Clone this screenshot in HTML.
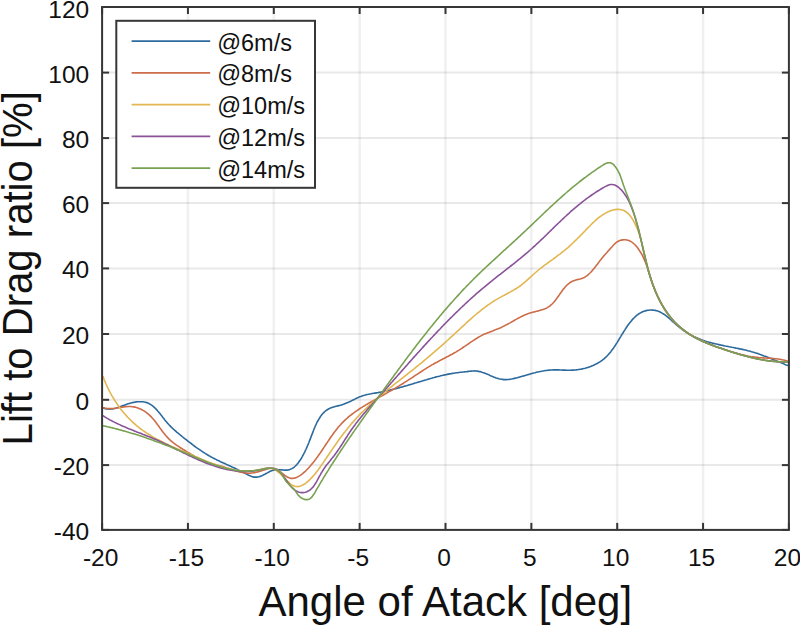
<!DOCTYPE html>
<html><head><meta charset="utf-8"><style>
html,body{margin:0;padding:0;background:#fff;width:800px;height:625px;overflow:hidden}
svg{position:absolute;left:0;top:0;font-family:"Liberation Sans", sans-serif}
</style></head><body>
<svg width="800" height="625" viewBox="0 0 800 625">
<line x1="187.95" y1="7.0" x2="187.95" y2="529.9" stroke="#000" stroke-opacity="0.06" stroke-width="2.6"/>
<line x1="273.80" y1="7.0" x2="273.80" y2="529.9" stroke="#000" stroke-opacity="0.06" stroke-width="2.6"/>
<line x1="359.65" y1="7.0" x2="359.65" y2="529.9" stroke="#000" stroke-opacity="0.06" stroke-width="2.6"/>
<line x1="445.50" y1="7.0" x2="445.50" y2="529.9" stroke="#000" stroke-opacity="0.06" stroke-width="2.6"/>
<line x1="531.35" y1="7.0" x2="531.35" y2="529.9" stroke="#000" stroke-opacity="0.06" stroke-width="2.6"/>
<line x1="617.20" y1="7.0" x2="617.20" y2="529.9" stroke="#000" stroke-opacity="0.06" stroke-width="2.6"/>
<line x1="703.05" y1="7.0" x2="703.05" y2="529.9" stroke="#000" stroke-opacity="0.06" stroke-width="2.6"/>
<line x1="102.1" y1="465.10" x2="788.9" y2="465.10" stroke="#000" stroke-opacity="0.085" stroke-width="2"/>
<line x1="102.1" y1="399.80" x2="788.9" y2="399.80" stroke="#000" stroke-opacity="0.085" stroke-width="2"/>
<line x1="102.1" y1="334.00" x2="788.9" y2="334.00" stroke="#000" stroke-opacity="0.085" stroke-width="2"/>
<line x1="102.1" y1="268.40" x2="788.9" y2="268.40" stroke="#000" stroke-opacity="0.085" stroke-width="2"/>
<line x1="102.1" y1="203.10" x2="788.9" y2="203.10" stroke="#000" stroke-opacity="0.085" stroke-width="2"/>
<line x1="102.1" y1="138.10" x2="788.9" y2="138.10" stroke="#000" stroke-opacity="0.085" stroke-width="2"/>
<line x1="102.1" y1="72.60" x2="788.9" y2="72.60" stroke="#000" stroke-opacity="0.085" stroke-width="2"/>
<path d="M102.4 407.9L103.9 408.3L105.3 408.7L106.8 408.9L108.1 409.0L109.5 409.1L110.8 409.0L112.1 408.9L113.3 408.7L114.6 408.5L115.8 408.2L117.0 407.8L118.2 407.4L119.4 407.0L120.6 406.6L121.8 406.1L123.0 405.6L124.3 405.2L125.5 404.7L126.8 404.2L128.0 403.8L129.4 403.4L130.7 403.0L132.0 402.7L133.4 402.4L134.8 402.2L136.1 401.9L137.5 401.8L138.9 401.7L140.2 401.7L141.6 401.7L142.9 401.8L144.2 402.0L145.4 402.3L146.7 402.6L147.9 403.1L149.0 403.6L150.1 404.2L151.2 404.9L152.2 405.6L153.2 406.4L154.2 407.3L155.2 408.2L156.1 409.1L157.0 410.1L157.9 411.2L158.8 412.2L159.7 413.3L160.6 414.4L161.4 415.5L162.3 416.6L163.1 417.7L164.0 418.8L164.8 419.9L165.7 421.0L166.6 422.0L167.4 423.0L168.3 424.0L169.2 425.0L170.1 425.9L171.0 426.9L172.0 427.8L172.9 428.7L173.8 429.5L174.8 430.4L175.7 431.2L176.7 432.1L177.7 432.9L178.7 433.7L179.7 434.5L180.7 435.3L181.7 436.2L182.7 437.0L183.7 437.8L184.7 438.6L185.8 439.4L186.8 440.2L187.9 441.1L188.9 441.9L190.0 442.7L191.1 443.5L192.2 444.3L193.2 445.2L194.3 446.0L195.4 446.8L196.5 447.6L197.6 448.4L198.8 449.1L199.9 449.9L201.0 450.7L202.1 451.4L203.2 452.2L204.4 452.9L205.5 453.6L206.7 454.3L207.8 455.0L208.9 455.7L210.1 456.3L211.2 457.0L212.4 457.6L213.6 458.2L214.7 458.8L215.9 459.4L217.0 460.0L218.2 460.6L219.4 461.1L220.5 461.7L221.7 462.2L222.9 462.8L224.1 463.3L225.3 463.8L226.5 464.4L227.7 464.9L228.9 465.5L230.1 466.0L231.3 466.6L232.5 467.2L233.7 467.7L235.0 468.3L236.2 468.9L237.4 469.5L238.6 470.1L239.8 470.7L241.1 471.3L242.3 471.9L243.5 472.5L244.7 473.1L245.9 473.7L247.1 474.4L248.2 475.0L249.4 475.6L250.6 476.1L251.8 476.5L253.0 476.9L254.2 477.1L255.4 477.1L256.6 477.1L257.8 477.0L258.9 476.7L260.1 476.4L261.3 475.9L262.5 475.4L263.7 474.8L264.9 474.2L266.1 473.5L267.3 472.9L268.5 472.2L269.7 471.6L270.9 471.1L272.2 470.6L273.5 470.2L274.8 469.9L276.1 469.7L277.5 469.6L278.9 469.7L280.3 469.8L281.6 469.9L283.0 470.0L284.4 470.1L285.7 470.1L287.0 470.1L288.3 469.9L289.5 469.6L290.6 469.2L291.8 468.6L292.9 468.0L293.9 467.3L294.9 466.5L295.9 465.5L296.8 464.6L297.7 463.5L298.5 462.5L299.3 461.3L300.1 460.2L300.9 459.0L301.6 457.8L302.3 456.6L302.9 455.4L303.6 454.2L304.2 453.0L304.8 451.8L305.3 450.7L305.9 449.5L306.4 448.4L306.9 447.2L307.4 446.0L307.9 444.9L308.4 443.7L308.9 442.5L309.3 441.3L309.8 440.1L310.3 438.9L310.7 437.7L311.2 436.4L311.7 435.1L312.2 433.9L312.7 432.6L313.2 431.3L313.7 430.0L314.2 428.6L314.8 427.3L315.3 426.0L315.9 424.8L316.5 423.5L317.1 422.2L317.8 421.0L318.5 419.8L319.2 418.6L319.9 417.5L320.6 416.4L321.4 415.3L322.2 414.3L323.1 413.3L324.0 412.4L324.9 411.5L325.9 410.7L326.9 410.0L327.9 409.3L329.0 408.7L330.2 408.1L331.4 407.7L332.6 407.3L333.8 406.9L335.1 406.5L336.4 406.2L337.7 405.9L339.0 405.6L340.3 405.3L341.5 404.9L342.8 404.5L344.1 404.1L345.3 403.6L346.5 403.1L347.8 402.6L349.0 402.0L350.1 401.4L351.3 400.9L352.5 400.3L353.7 399.7L354.9 399.1L356.0 398.5L357.2 397.9L358.4 397.4L359.6 396.8L360.8 396.4L362.1 395.9L363.3 395.5L364.6 395.2L365.9 394.8L367.2 394.5L368.5 394.3L369.8 394.0L371.1 393.8L372.4 393.5L373.7 393.3L375.0 393.1L376.3 392.9L377.7 392.7L379.0 392.4L380.3 392.2L381.6 391.9L382.9 391.7L384.2 391.4L385.5 391.1L386.8 390.8L388.1 390.6L389.4 390.2L390.7 389.9L392.0 389.6L393.3 389.3L394.6 389.0L395.9 388.6L397.2 388.3L398.5 387.9L399.7 387.6L401.0 387.2L402.3 386.9L403.6 386.5L404.9 386.1L406.1 385.8L407.4 385.4L408.7 385.0L410.0 384.6L411.3 384.3L412.5 383.9L413.8 383.5L415.1 383.1L416.4 382.7L417.6 382.3L418.9 381.9L420.2 381.6L421.5 381.2L422.7 380.8L424.0 380.4L425.3 380.0L426.6 379.7L427.8 379.3L429.1 378.9L430.4 378.5L431.7 378.2L433.0 377.8L434.2 377.5L435.5 377.1L436.8 376.8L438.1 376.5L439.4 376.2L440.7 375.8L442.0 375.5L443.3 375.2L444.6 374.9L445.9 374.7L447.2 374.4L448.5 374.1L449.8 373.9L451.1 373.7L452.4 373.4L453.7 373.2L455.0 373.0L456.4 372.8L457.7 372.7L459.0 372.5L460.3 372.3L461.7 372.2L463.0 372.0L464.3 371.9L465.6 371.7L467.0 371.6L468.3 371.4L469.6 371.3L470.9 371.1L472.3 371.0L473.6 371.0L474.9 370.9L476.2 371.0L477.5 371.1L478.7 371.4L480.0 371.6L481.3 372.0L482.5 372.4L483.8 372.8L485.0 373.3L486.3 373.8L487.5 374.3L488.8 374.8L490.0 375.4L491.2 375.9L492.5 376.4L493.7 376.9L495.0 377.4L496.2 377.9L497.5 378.3L498.7 378.7L500.0 379.0L501.3 379.3L502.5 379.4L503.8 379.6L505.1 379.6L506.4 379.6L507.7 379.5L509.0 379.4L510.3 379.2L511.6 379.0L513.0 378.7L514.3 378.4L515.6 378.1L516.9 377.8L518.2 377.4L519.5 377.1L520.8 376.7L522.2 376.3L523.5 375.9L524.8 375.6L526.1 375.2L527.4 374.8L528.7 374.4L530.0 374.1L531.2 373.7L532.5 373.3L533.8 373.0L535.1 372.7L536.4 372.3L537.7 372.0L539.0 371.7L540.3 371.5L541.6 371.2L542.9 371.0L544.2 370.7L545.5 370.5L546.8 370.4L548.1 370.2L549.4 370.1L550.7 370.0L552.0 370.0L553.3 369.9L554.7 369.9L556.0 369.9L557.3 369.9L558.6 369.9L559.9 370.0L561.3 370.0L562.6 370.1L563.9 370.1L565.3 370.1L566.6 370.2L567.9 370.2L569.3 370.2L570.6 370.2L572.0 370.1L573.3 370.1L574.7 370.0L576.0 369.9L577.3 369.7L578.7 369.5L580.0 369.3L581.4 369.1L582.7 368.8L584.0 368.5L585.3 368.2L586.6 367.8L587.9 367.4L589.2 367.0L590.5 366.6L591.7 366.1L592.9 365.6L594.2 365.0L595.3 364.4L596.5 363.8L597.7 363.2L598.8 362.5L599.9 361.9L601.0 361.1L602.0 360.4L603.0 359.6L604.0 358.8L605.0 357.9L605.9 357.1L606.8 356.2L607.7 355.3L608.6 354.3L609.4 353.4L610.2 352.4L611.0 351.4L611.8 350.3L612.6 349.3L613.4 348.2L614.1 347.1L614.9 346.0L615.6 344.9L616.3 343.8L617.1 342.6L617.8 341.4L618.5 340.3L619.2 339.1L619.9 337.9L620.7 336.6L621.4 335.4L622.1 334.2L622.9 333.0L623.6 331.8L624.4 330.6L625.2 329.4L625.9 328.2L626.7 327.0L627.5 325.8L628.3 324.7L629.2 323.6L630.0 322.5L630.9 321.4L631.7 320.4L632.6 319.4L633.5 318.4L634.5 317.5L635.4 316.6L636.4 315.7L637.4 314.9L638.4 314.2L639.4 313.5L640.5 312.9L641.6 312.3L642.7 311.8L643.9 311.3L645.1 310.9L646.3 310.6L647.6 310.3L648.8 310.2L650.1 310.0L651.4 310.0L652.7 310.1L654.0 310.2L655.2 310.4L656.5 310.7L657.7 311.1L658.9 311.5L660.1 312.0L661.3 312.6L662.4 313.3L663.5 314.0L664.6 314.7L665.7 315.5L666.8 316.4L667.8 317.2L668.9 318.1L669.9 319.0L671.0 319.9L672.0 320.9L673.0 321.8L674.1 322.7L675.1 323.7L676.2 324.6L677.2 325.5L678.3 326.3L679.3 327.2L680.4 328.0L681.5 328.8L682.5 329.6L683.6 330.4L684.7 331.2L685.8 331.9L686.9 332.6L688.1 333.3L689.2 334.0L690.3 334.6L691.5 335.3L692.6 335.9L693.8 336.5L695.0 337.0L696.1 337.6L697.3 338.1L698.5 338.6L699.8 339.1L701.0 339.6L702.2 340.0L703.4 340.5L704.7 340.9L705.9 341.3L707.2 341.7L708.5 342.0L709.7 342.4L711.0 342.7L712.3 343.1L713.6 343.4L714.9 343.7L716.2 344.0L717.5 344.3L718.8 344.6L720.1 344.9L721.4 345.2L722.7 345.4L724.0 345.7L725.3 346.0L726.7 346.2L728.0 346.5L729.3 346.8L730.6 347.0L731.9 347.3L733.3 347.5L734.6 347.8L735.9 348.1L737.2 348.3L738.5 348.6L739.9 348.9L741.2 349.1L742.5 349.4L743.8 349.7L745.1 350.0L746.4 350.3L747.7 350.7L749.0 351.0L750.2 351.3L751.5 351.7L752.8 352.0L754.1 352.4L755.3 352.8L756.6 353.2L757.8 353.6L759.1 354.1L760.3 354.5L761.6 354.9L762.8 355.4L764.0 355.9L765.2 356.3L766.5 356.8L767.7 357.3L768.9 357.8L770.1 358.3L771.4 358.8L772.6 359.3L773.8 359.8L775.0 360.3L776.3 360.8L777.5 361.3L778.7 361.8L780.0 362.3L781.2 362.8L782.4 363.3L783.7 363.8L784.9 364.4L786.2 364.9L787.4 365.3L788.7 365.8" fill="none" stroke="#2c6a9e" stroke-width="1.6" stroke-linejoin="round" stroke-linecap="round"/>
<path d="M102.5 407.5L103.9 407.9L105.3 408.2L106.7 408.4L108.2 408.5L109.6 408.6L111.0 408.6L112.4 408.5L113.9 408.4L115.3 408.2L116.7 408.0L118.1 407.8L119.5 407.6L121.0 407.3L122.4 407.1L123.8 406.9L125.2 406.7L126.6 406.6L128.0 406.5L129.4 406.5L130.8 406.5L132.3 406.7L133.6 406.9L135.0 407.1L136.4 407.5L137.8 407.9L139.1 408.5L140.5 409.0L141.8 409.7L143.1 410.4L144.3 411.1L145.5 411.9L146.7 412.8L147.8 413.7L148.9 414.6L150.0 415.6L151.0 416.6L152.0 417.7L152.9 418.7L153.9 419.8L154.8 420.9L155.7 422.1L156.5 423.2L157.4 424.4L158.3 425.5L159.1 426.7L159.9 427.9L160.8 429.0L161.6 430.2L162.5 431.4L163.3 432.5L164.2 433.6L165.1 434.7L166.0 435.8L167.0 436.9L167.9 437.9L168.9 438.9L169.9 439.9L171.0 440.8L172.0 441.7L173.1 442.6L174.2 443.4L175.4 444.3L176.5 445.1L177.7 445.9L178.9 446.7L180.1 447.5L181.3 448.2L182.5 449.0L183.7 449.8L184.9 450.5L186.2 451.3L187.4 452.1L188.6 452.8L189.9 453.5L191.1 454.3L192.4 455.0L193.7 455.7L194.9 456.4L196.2 457.1L197.5 457.8L198.8 458.4L200.1 459.0L201.4 459.7L202.7 460.2L204.0 460.8L205.3 461.4L206.6 461.9L207.9 462.4L209.2 462.8L210.6 463.3L211.9 463.7L213.2 464.1L214.6 464.4L215.9 464.8L217.3 465.2L218.6 465.5L220.0 465.9L221.4 466.2L222.7 466.6L224.1 467.0L225.5 467.4L226.9 467.9L228.3 468.3L229.7 468.8L231.0 469.3L232.4 469.7L233.8 470.2L235.2 470.6L236.6 471.1L238.0 471.5L239.4 471.9L240.8 472.2L242.2 472.5L243.6 472.8L245.0 473.0L246.4 473.1L247.8 473.2L249.2 473.2L250.6 473.1L252.0 473.0L253.4 472.8L254.7 472.6L256.1 472.3L257.5 471.9L258.8 471.6L260.2 471.2L261.6 470.8L262.9 470.3L264.3 469.9L265.7 469.4L267.0 469.0L268.3 468.7L269.7 468.4L271.0 468.3L272.3 468.2L273.6 468.3L274.9 468.6L276.1 469.1L277.4 469.7L278.6 470.5L279.9 471.4L281.1 472.4L282.3 473.3L283.5 474.3L284.7 475.3L286.0 476.2L287.2 477.0L288.5 477.6L289.8 478.1L291.2 478.4L292.5 478.4L293.9 478.2L295.2 477.9L296.6 477.4L297.8 476.8L299.1 476.1L300.3 475.4L301.4 474.6L302.6 473.7L303.7 472.7L304.7 471.8L305.8 470.8L306.8 469.8L307.8 468.7L308.8 467.7L309.8 466.6L310.7 465.5L311.6 464.4L312.6 463.3L313.5 462.2L314.4 461.1L315.2 459.9L316.1 458.8L317.0 457.6L317.8 456.4L318.6 455.3L319.5 454.1L320.3 452.9L321.1 451.7L321.9 450.5L322.7 449.3L323.5 448.1L324.3 446.9L325.1 445.7L325.9 444.5L326.7 443.3L327.5 442.1L328.3 440.9L329.1 439.7L329.9 438.5L330.7 437.3L331.5 436.2L332.4 435.0L333.2 433.8L334.0 432.7L334.9 431.6L335.8 430.4L336.6 429.3L337.5 428.2L338.4 427.1L339.3 426.0L340.3 425.0L341.2 423.9L342.2 422.9L343.2 421.9L344.2 420.9L345.2 419.9L346.2 419.0L347.3 418.1L348.3 417.1L349.4 416.2L350.5 415.3L351.6 414.5L352.8 413.6L353.9 412.8L355.1 411.9L356.2 411.1L357.4 410.3L358.6 409.5L359.8 408.7L361.0 407.9L362.2 407.2L363.4 406.4L364.6 405.7L365.9 404.9L367.1 404.2L368.4 403.4L369.6 402.7L370.9 402.0L372.1 401.3L373.4 400.6L374.6 399.9L375.9 399.2L377.1 398.5L378.4 397.8L379.6 397.1L380.9 396.4L382.1 395.7L383.4 395.0L384.6 394.3L385.9 393.6L387.1 392.8L388.3 392.1L389.6 391.4L390.8 390.7L392.0 390.0L393.3 389.3L394.5 388.6L395.7 387.9L396.9 387.1L398.1 386.4L399.4 385.7L400.6 384.9L401.8 384.2L403.0 383.5L404.2 382.7L405.4 381.9L406.6 381.2L407.8 380.4L409.0 379.6L410.2 378.8L411.4 378.1L412.6 377.3L413.8 376.5L415.0 375.7L416.2 374.9L417.4 374.1L418.6 373.3L419.8 372.5L421.0 371.8L422.2 371.0L423.4 370.2L424.6 369.4L425.8 368.7L427.0 367.9L428.2 367.1L429.5 366.4L430.7 365.7L431.9 364.9L433.2 364.2L434.4 363.5L435.7 362.8L436.9 362.2L438.2 361.5L439.4 360.8L440.7 360.1L442.0 359.5L443.2 358.8L444.5 358.2L445.8 357.5L447.0 356.8L448.3 356.2L449.6 355.5L450.8 354.8L452.1 354.2L453.3 353.5L454.5 352.8L455.8 352.1L457.0 351.3L458.2 350.6L459.4 349.9L460.6 349.1L461.8 348.3L463.0 347.5L464.2 346.7L465.4 345.9L466.5 345.1L467.7 344.3L468.9 343.5L470.0 342.7L471.2 341.9L472.4 341.1L473.6 340.3L474.8 339.5L476.0 338.8L477.2 338.0L478.4 337.3L479.6 336.6L480.9 335.9L482.1 335.3L483.4 334.6L484.7 334.0L486.0 333.5L487.3 332.9L488.7 332.4L490.0 331.9L491.3 331.4L492.7 330.9L494.0 330.3L495.4 329.8L496.7 329.3L498.0 328.8L499.4 328.2L500.7 327.7L502.0 327.1L503.3 326.4L504.5 325.8L505.8 325.1L507.1 324.5L508.3 323.8L509.6 323.1L510.8 322.4L512.0 321.7L513.3 321.0L514.5 320.3L515.7 319.6L517.0 318.9L518.2 318.2L519.5 317.6L520.7 316.9L522.0 316.3L523.3 315.7L524.6 315.1L525.9 314.6L527.2 314.0L528.5 313.6L529.9 313.1L531.2 312.7L532.6 312.3L534.0 311.9L535.4 311.6L536.8 311.2L538.2 310.9L539.6 310.5L540.9 310.1L542.3 309.7L543.6 309.3L544.9 308.8L546.2 308.2L547.4 307.6L548.5 306.9L549.7 306.1L550.7 305.2L551.8 304.3L552.8 303.3L553.7 302.3L554.7 301.2L555.6 300.0L556.5 298.8L557.3 297.6L558.2 296.4L559.1 295.2L559.9 293.9L560.8 292.7L561.7 291.5L562.5 290.3L563.4 289.1L564.4 288.0L565.3 286.9L566.3 285.8L567.3 284.8L568.4 283.9L569.5 283.0L570.6 282.2L571.9 281.5L573.1 280.9L574.5 280.4L575.9 280.0L577.3 279.6L578.8 279.3L580.2 279.0L581.6 278.6L583.0 278.0L584.3 277.4L585.5 276.7L586.7 275.9L587.9 275.0L588.9 274.0L590.0 273.0L591.0 272.0L592.0 270.9L592.9 269.8L593.8 268.7L594.8 267.6L595.6 266.5L596.5 265.3L597.4 264.2L598.2 263.0L599.1 261.9L599.9 260.8L600.8 259.7L601.7 258.5L602.5 257.5L603.4 256.4L604.4 255.3L605.3 254.3L606.2 253.2L607.2 252.2L608.1 251.1L609.1 250.0L610.1 248.9L611.1 247.8L612.1 246.7L613.1 245.5L614.1 244.5L615.2 243.4L616.3 242.5L617.5 241.7L618.7 241.0L620.0 240.5L621.3 240.1L622.7 239.9L624.0 239.8L625.4 239.8L626.7 240.0L628.1 240.3L629.4 240.8L630.6 241.4L631.9 242.1L633.0 243.0L634.1 244.0L635.2 245.0L636.2 246.1L637.2 247.3L638.1 248.5L638.9 249.7L639.7 251.0L640.5 252.2L641.3 253.5L642.0 254.7L642.6 256.0L643.3 257.3L643.9 258.6L644.4 259.9L645.0 261.2L645.5 262.5L646.0 263.8L646.5 265.1L647.0 266.5L647.4 267.8L647.9 269.1L648.3 270.5L648.7 271.8L649.2 273.2L649.6 274.5L650.0 275.9L650.5 277.2L650.9 278.6L651.4 280.0L651.8 281.3L652.3 282.7L652.8 284.0L653.3 285.4L653.8 286.7L654.3 288.1L654.8 289.4L655.4 290.8L655.9 292.1L656.5 293.4L657.1 294.8L657.6 296.1L658.2 297.4L658.9 298.7L659.5 300.0L660.1 301.3L660.8 302.6L661.5 303.8L662.1 305.1L662.8 306.3L663.6 307.6L664.3 308.8L665.0 310.0L665.8 311.2L666.6 312.4L667.4 313.5L668.2 314.7L669.1 315.8L669.9 316.9L670.8 318.0L671.7 319.1L672.6 320.2L673.6 321.2L674.5 322.2L675.5 323.2L676.5 324.2L677.5 325.2L678.6 326.1L679.7 327.0L680.7 327.9L681.9 328.8L683.0 329.7L684.1 330.5L685.3 331.4L686.4 332.2L687.6 333.0L688.8 333.7L690.1 334.5L691.3 335.2L692.5 335.9L693.8 336.6L695.1 337.3L696.3 338.0L697.6 338.7L698.9 339.3L700.2 340.0L701.5 340.6L702.9 341.2L704.2 341.8L705.5 342.4L706.9 343.0L708.2 343.5L709.6 344.1L710.9 344.6L712.3 345.1L713.7 345.7L715.0 346.2L716.4 346.7L717.8 347.2L719.1 347.6L720.5 348.1L721.9 348.6L723.2 349.1L724.6 349.5L725.9 350.0L727.3 350.4L728.7 350.8L730.0 351.3L731.3 351.7L732.7 352.1L734.0 352.5L735.3 352.9L736.7 353.3L738.0 353.7L739.3 354.1L740.7 354.4L742.0 354.8L743.4 355.1L744.7 355.4L746.1 355.7L747.4 356.0L748.8 356.3L750.2 356.5L751.6 356.7L753.0 356.9L754.4 357.1L755.8 357.3L757.3 357.4L758.7 357.6L760.2 357.7L761.7 357.8L763.1 357.9L764.6 358.0L766.1 358.0L767.6 358.1L769.0 358.2L770.5 358.3L772.0 358.4L773.5 358.5L774.9 358.7L776.4 358.8L777.8 359.0L779.2 359.2L780.6 359.4L782.0 359.7L783.4 360.0L784.8 360.3L786.1 360.7L787.4 361.1L788.7 361.6" fill="none" stroke="#cd6c48" stroke-width="1.6" stroke-linejoin="round" stroke-linecap="round"/>
<path d="M103.1 376.6L103.6 378.0L104.1 379.5L104.7 380.9L105.3 382.3L105.9 383.7L106.5 385.1L107.2 386.5L107.8 387.9L108.5 389.3L109.2 390.6L109.9 392.0L110.6 393.4L111.4 394.7L112.1 396.1L112.9 397.4L113.7 398.7L114.5 400.0L115.4 401.4L116.2 402.6L117.1 403.9L118.0 405.2L118.9 406.5L119.8 407.7L120.7 409.0L121.7 410.2L122.7 411.4L123.6 412.6L124.6 413.8L125.7 414.9L126.7 416.1L127.7 417.2L128.8 418.3L129.9 419.4L131.0 420.5L132.1 421.6L133.2 422.6L134.3 423.6L135.5 424.7L136.6 425.6L137.8 426.6L139.0 427.6L140.2 428.5L141.4 429.4L142.6 430.3L143.9 431.2L145.1 432.0L146.4 432.9L147.7 433.7L149.0 434.5L150.3 435.3L151.6 436.1L152.9 436.9L154.2 437.6L155.6 438.4L156.9 439.1L158.3 439.8L159.6 440.5L161.0 441.2L162.4 441.9L163.7 442.6L165.1 443.3L166.5 444.0L167.9 444.6L169.3 445.3L170.7 445.9L172.1 446.6L173.6 447.2L175.0 447.8L176.4 448.4L177.8 449.1L179.3 449.7L180.7 450.3L182.1 450.9L183.5 451.5L185.0 452.1L186.4 452.7L187.8 453.3L189.3 453.9L190.7 454.5L192.2 455.1L193.6 455.7L195.0 456.4L196.4 457.0L197.9 457.6L199.3 458.2L200.7 458.8L202.1 459.4L203.6 460.0L205.0 460.6L206.4 461.2L207.8 461.8L209.3 462.4L210.7 463.0L212.1 463.5L213.6 464.1L215.0 464.6L216.4 465.1L217.9 465.6L219.3 466.1L220.8 466.6L222.2 467.1L223.7 467.5L225.1 467.9L226.6 468.3L228.1 468.7L229.6 469.0L231.0 469.3L232.5 469.6L234.0 469.9L235.5 470.2L237.0 470.4L238.6 470.6L240.1 470.7L241.6 470.8L243.2 470.9L244.7 471.0L246.3 471.0L247.9 471.0L249.4 470.9L251.0 470.8L252.6 470.7L254.2 470.5L255.8 470.3L257.4 470.0L259.0 469.7L260.6 469.4L262.1 469.0L263.7 468.7L265.2 468.4L266.6 468.2L268.1 468.1L269.5 468.1L270.8 468.3L272.1 468.6L273.4 469.0L274.6 469.6L275.8 470.3L277.0 471.1L278.2 472.0L279.3 472.9L280.4 474.0L281.6 475.1L282.7 476.3L283.9 477.5L285.0 478.7L286.2 479.9L287.4 481.1L288.6 482.2L289.8 483.3L291.1 484.3L292.3 485.1L293.6 485.8L294.8 486.2L296.1 486.5L297.4 486.6L298.8 486.4L300.1 486.1L301.4 485.7L302.7 485.1L304.0 484.3L305.3 483.5L306.5 482.5L307.8 481.5L309.0 480.4L310.2 479.3L311.3 478.1L312.4 476.9L313.4 475.8L314.5 474.6L315.5 473.3L316.4 472.1L317.4 470.9L318.3 469.7L319.2 468.4L320.1 467.2L320.9 465.9L321.8 464.6L322.7 463.4L323.6 462.1L324.4 460.8L325.3 459.6L326.2 458.3L327.0 457.0L327.9 455.7L328.8 454.5L329.6 453.2L330.5 451.9L331.4 450.7L332.2 449.4L333.1 448.1L334.0 446.8L334.9 445.6L335.8 444.3L336.6 443.0L337.5 441.8L338.4 440.5L339.3 439.3L340.2 438.0L341.2 436.8L342.1 435.6L343.0 434.3L343.9 433.1L344.9 431.9L345.8 430.7L346.8 429.5L347.7 428.3L348.7 427.1L349.7 425.9L350.6 424.7L351.6 423.5L352.6 422.4L353.7 421.2L354.7 420.1L355.7 419.0L356.8 417.8L357.8 416.7L358.9 415.6L359.9 414.5L361.0 413.4L362.1 412.3L363.2 411.3L364.3 410.2L365.4 409.1L366.5 408.1L367.6 407.0L368.7 406.0L369.9 404.9L371.0 403.9L372.1 402.9L373.3 401.9L374.4 400.8L375.6 399.8L376.8 398.8L377.9 397.8L379.1 396.8L380.3 395.8L381.5 394.8L382.6 393.8L383.8 392.9L385.0 391.9L386.2 390.9L387.4 389.9L388.6 389.0L389.8 388.0L391.0 387.0L392.2 386.1L393.4 385.1L394.6 384.1L395.8 383.2L397.1 382.2L398.3 381.3L399.5 380.3L400.7 379.4L401.9 378.4L403.1 377.5L404.3 376.5L405.5 375.6L406.8 374.6L408.0 373.6L409.2 372.7L410.4 371.7L411.6 370.8L412.8 369.8L414.0 368.9L415.2 367.9L416.4 366.9L417.6 366.0L418.8 365.0L420.0 364.0L421.2 363.1L422.4 362.1L423.5 361.1L424.7 360.1L425.9 359.1L427.1 358.2L428.2 357.2L429.4 356.2L430.6 355.2L431.8 354.2L432.9 353.2L434.1 352.2L435.2 351.2L436.4 350.2L437.6 349.2L438.7 348.2L439.9 347.2L441.0 346.2L442.2 345.1L443.3 344.1L444.5 343.1L445.6 342.1L446.7 341.0L447.9 340.0L449.0 339.0L450.2 337.9L451.3 336.9L452.4 335.9L453.6 334.8L454.7 333.8L455.8 332.7L457.0 331.7L458.1 330.6L459.2 329.6L460.4 328.5L461.5 327.4L462.6 326.4L463.8 325.3L464.9 324.3L466.0 323.2L467.2 322.2L468.3 321.2L469.5 320.1L470.6 319.1L471.8 318.1L472.9 317.0L474.1 316.0L475.3 315.0L476.4 314.0L477.6 313.0L478.8 312.1L480.0 311.1L481.2 310.1L482.4 309.2L483.6 308.3L484.8 307.3L486.1 306.4L487.3 305.5L488.6 304.6L489.8 303.8L491.1 302.9L492.4 302.1L493.6 301.2L494.9 300.4L496.3 299.6L497.6 298.9L498.9 298.1L500.2 297.4L501.6 296.6L502.9 295.9L504.3 295.2L505.6 294.5L507.0 293.8L508.3 293.0L509.7 292.3L511.0 291.6L512.3 290.8L513.7 290.1L515.0 289.3L516.3 288.5L517.5 287.7L518.8 286.9L520.0 286.0L521.3 285.1L522.5 284.2L523.6 283.2L524.8 282.2L526.0 281.2L527.1 280.2L528.2 279.2L529.3 278.2L530.5 277.1L531.6 276.1L532.7 275.0L533.9 274.0L535.0 273.0L536.2 272.0L537.3 271.0L538.5 270.0L539.7 269.0L540.9 268.0L542.2 267.1L543.4 266.2L544.6 265.2L545.9 264.3L547.1 263.4L548.4 262.5L549.6 261.6L550.9 260.7L552.1 259.8L553.4 258.9L554.6 258.0L555.9 257.1L557.1 256.1L558.3 255.2L559.6 254.3L560.8 253.4L562.0 252.4L563.2 251.5L564.4 250.5L565.5 249.6L566.7 248.6L567.9 247.6L569.0 246.6L570.1 245.6L571.2 244.6L572.3 243.5L573.4 242.5L574.5 241.4L575.6 240.4L576.7 239.3L577.8 238.2L578.9 237.2L580.0 236.1L581.0 235.0L582.1 233.9L583.2 232.7L584.3 231.6L585.4 230.5L586.4 229.4L587.5 228.2L588.6 227.1L589.8 226.0L590.9 224.8L592.0 223.7L593.1 222.6L594.3 221.5L595.5 220.4L596.6 219.4L597.8 218.4L599.1 217.4L600.3 216.5L601.6 215.6L602.8 214.7L604.2 213.9L605.5 213.1L606.8 212.4L608.2 211.8L609.6 211.2L611.1 210.6L612.5 210.2L614.0 209.8L615.4 209.6L616.9 209.4L618.3 209.4L619.7 209.5L621.1 209.7L622.5 210.0L623.8 210.5L625.0 211.2L626.2 211.9L627.3 212.9L628.4 213.9L629.5 215.0L630.5 216.2L631.4 217.5L632.3 218.9L633.2 220.3L634.0 221.8L634.8 223.3L635.5 224.8L636.2 226.3L636.9 227.8L637.5 229.3L638.0 230.8L638.6 232.3L639.1 233.7L639.5 235.2L640.0 236.6L640.4 238.1L640.9 239.5L641.3 240.9L641.7 242.4L642.0 243.8L642.4 245.3L642.8 246.8L643.2 248.2L643.5 249.7L643.9 251.2L644.2 252.6L644.6 254.1L644.9 255.6L645.3 257.1L645.6 258.6L646.0 260.1L646.3 261.5L646.7 263.0L647.1 264.5L647.4 266.0L647.8 267.5L648.2 269.0L648.6 270.5L649.0 272.0L649.4 273.5L649.8 275.0L650.2 276.4L650.7 277.9L651.1 279.4L651.6 280.9L652.1 282.4L652.6 283.9L653.1 285.3L653.7 286.8L654.2 288.3L654.8 289.7L655.3 291.2L655.9 292.6L656.5 294.0L657.2 295.5L657.8 296.9L658.5 298.3L659.2 299.7L659.9 301.1L660.6 302.4L661.3 303.8L662.1 305.1L662.8 306.5L663.6 307.8L664.4 309.1L665.2 310.4L666.1 311.7L667.0 312.9L667.9 314.1L668.8 315.4L669.7 316.6L670.6 317.7L671.6 318.9L672.6 320.0L673.6 321.1L674.7 322.2L675.7 323.3L676.8 324.4L677.9 325.4L679.1 326.4L680.2 327.4L681.4 328.3L682.6 329.2L683.8 330.2L685.0 331.1L686.3 331.9L687.5 332.8L688.8 333.6L690.1 334.4L691.4 335.2L692.8 336.0L694.1 336.8L695.4 337.5L696.8 338.3L698.2 339.0L699.6 339.7L701.0 340.3L702.4 341.0L703.8 341.7L705.2 342.3L706.7 342.9L708.1 343.6L709.6 344.2L711.0 344.7L712.5 345.3L713.9 345.9L715.4 346.4L716.9 347.0L718.4 347.5L719.8 348.1L721.3 348.6L722.8 349.1L724.3 349.6L725.7 350.1L727.2 350.6L728.7 351.1L730.2 351.5L731.6 352.0L733.1 352.5L734.5 352.9L736.0 353.4L737.5 353.8L738.9 354.2L740.4 354.7L741.8 355.1L743.3 355.5L744.8 355.9L746.2 356.3L747.7 356.6L749.1 357.0L750.6 357.4L752.1 357.7L753.6 358.0L755.0 358.4L756.5 358.7L758.0 359.0L759.5 359.2L760.9 359.5L762.4 359.8L763.9 360.0L765.4 360.3L766.9 360.5L768.5 360.7L770.0 360.9L771.5 361.0L773.0 361.2L774.6 361.3L776.1 361.5L777.7 361.6L779.2 361.7L780.8 361.7L782.4 361.8L784.0 361.8L785.6 361.9L787.2 361.9L788.8 361.9" fill="none" stroke="#e2b650" stroke-width="1.6" stroke-linejoin="round" stroke-linecap="round"/>
<path d="M102.8 415.6L104.1 416.4L105.5 417.3L106.8 418.1L108.2 418.9L109.6 419.7L111.0 420.4L112.4 421.2L113.8 421.9L115.2 422.6L116.6 423.3L118.0 423.9L119.5 424.6L120.9 425.3L122.3 425.9L123.7 426.5L125.2 427.1L126.6 427.8L128.1 428.4L129.5 429.0L131.0 429.5L132.4 430.1L133.9 430.7L135.3 431.3L136.8 431.9L138.2 432.4L139.7 433.0L141.2 433.6L142.6 434.2L144.1 434.7L145.5 435.3L147.0 435.9L148.4 436.5L149.9 437.1L151.4 437.7L152.8 438.3L154.3 438.9L155.7 439.5L157.1 440.1L158.6 440.8L160.0 441.4L161.5 442.1L162.9 442.7L164.3 443.4L165.7 444.1L167.2 444.8L168.6 445.5L170.0 446.2L171.4 446.9L172.9 447.6L174.3 448.3L175.7 449.0L177.1 449.7L178.6 450.4L180.0 451.1L181.4 451.8L182.8 452.5L184.2 453.2L185.7 453.9L187.1 454.6L188.5 455.3L189.9 455.9L191.4 456.6L192.8 457.3L194.2 457.9L195.7 458.6L197.1 459.2L198.5 459.9L200.0 460.5L201.4 461.1L202.9 461.7L204.3 462.3L205.8 462.9L207.2 463.5L208.7 464.0L210.1 464.6L211.6 465.1L213.1 465.6L214.6 466.1L216.0 466.6L217.5 467.0L219.0 467.5L220.5 467.9L222.0 468.3L223.5 468.7L225.0 469.0L226.6 469.4L228.1 469.7L229.6 470.0L231.2 470.2L232.7 470.5L234.3 470.7L235.8 470.9L237.4 471.0L239.0 471.2L240.5 471.3L242.1 471.4L243.7 471.4L245.3 471.4L246.9 471.4L248.5 471.4L250.1 471.3L251.8 471.2L253.4 471.0L255.0 470.8L256.6 470.5L258.2 470.2L259.8 469.9L261.4 469.5L263.0 469.2L264.5 468.8L266.1 468.5L267.6 468.3L269.1 468.2L270.6 468.2L272.0 468.3L273.4 468.6L274.8 469.0L276.1 469.6L277.4 470.2L278.6 471.0L279.7 472.0L280.9 473.0L281.9 474.2L282.9 475.4L283.9 476.7L284.9 478.1L285.8 479.5L286.8 480.9L287.7 482.3L288.7 483.7L289.7 485.0L290.8 486.3L291.8 487.5L293.0 488.7L294.2 489.7L295.5 490.6L296.9 491.3L298.3 491.9L299.7 492.3L301.2 492.6L302.7 492.6L304.1 492.5L305.6 492.2L306.9 491.7L308.2 491.1L309.4 490.3L310.6 489.5L311.6 488.5L312.7 487.4L313.6 486.2L314.5 484.9L315.4 483.5L316.3 482.1L317.1 480.7L317.9 479.2L318.7 477.7L319.5 476.2L320.3 474.8L321.1 473.3L322.0 471.9L322.8 470.5L323.7 469.1L324.6 467.8L325.5 466.5L326.4 465.3L327.4 464.1L328.3 462.9L329.3 461.7L330.3 460.5L331.2 459.3L332.2 458.1L333.1 456.9L334.1 455.7L335.0 454.5L335.9 453.3L336.8 452.0L337.7 450.7L338.6 449.4L339.5 448.1L340.3 446.8L341.2 445.5L342.1 444.2L342.9 442.9L343.8 441.5L344.6 440.2L345.5 438.8L346.3 437.5L347.2 436.2L348.0 434.8L348.9 433.5L349.8 432.1L350.7 430.8L351.6 429.5L352.5 428.2L353.4 426.9L354.3 425.7L355.3 424.4L356.2 423.1L357.2 421.9L358.2 420.6L359.1 419.4L360.1 418.2L361.1 417.0L362.1 415.8L363.1 414.6L364.1 413.4L365.2 412.2L366.2 411.0L367.2 409.8L368.2 408.6L369.3 407.4L370.3 406.3L371.4 405.1L372.4 403.9L373.4 402.8L374.5 401.6L375.5 400.4L376.6 399.3L377.6 398.1L378.7 396.9L379.7 395.8L380.8 394.6L381.8 393.4L382.9 392.2L383.9 391.1L385.0 389.9L386.0 388.7L387.1 387.6L388.1 386.4L389.1 385.2L390.2 384.0L391.2 382.8L392.3 381.7L393.3 380.5L394.3 379.3L395.4 378.1L396.4 377.0L397.5 375.8L398.5 374.6L399.6 373.4L400.6 372.2L401.6 371.1L402.7 369.9L403.7 368.7L404.8 367.5L405.8 366.4L406.9 365.2L407.9 364.0L408.9 362.8L410.0 361.6L411.0 360.5L412.1 359.3L413.1 358.1L414.2 356.9L415.2 355.8L416.3 354.6L417.3 353.4L418.4 352.3L419.5 351.1L420.5 349.9L421.6 348.8L422.6 347.6L423.7 346.4L424.7 345.3L425.8 344.1L426.9 342.9L427.9 341.8L429.0 340.6L430.1 339.5L431.1 338.3L432.2 337.2L433.3 336.0L434.4 334.9L435.4 333.7L436.5 332.6L437.6 331.4L438.7 330.3L439.8 329.2L440.9 328.0L441.9 326.9L443.0 325.8L444.1 324.6L445.2 323.5L446.3 322.4L447.4 321.3L448.5 320.1L449.6 319.0L450.7 317.9L451.9 316.8L453.0 315.7L454.1 314.6L455.2 313.5L456.3 312.4L457.5 311.3L458.6 310.2L459.7 309.1L460.8 308.0L462.0 307.0L463.1 305.9L464.3 304.8L465.4 303.7L466.6 302.7L467.7 301.6L468.9 300.5L470.0 299.5L471.2 298.4L472.4 297.4L473.5 296.3L474.7 295.3L475.9 294.2L477.1 293.2L478.3 292.2L479.5 291.1L480.6 290.1L481.8 289.1L483.0 288.1L484.3 287.1L485.5 286.1L486.7 285.1L487.9 284.1L489.1 283.1L490.3 282.1L491.6 281.1L492.8 280.1L494.0 279.2L495.3 278.2L496.5 277.2L497.7 276.2L499.0 275.2L500.2 274.3L501.4 273.3L502.7 272.3L503.9 271.4L505.2 270.4L506.4 269.4L507.6 268.4L508.9 267.5L510.1 266.5L511.4 265.5L512.6 264.6L513.8 263.6L515.1 262.6L516.3 261.6L517.5 260.6L518.7 259.6L520.0 258.6L521.2 257.6L522.4 256.6L523.6 255.6L524.8 254.6L526.0 253.6L527.2 252.6L528.4 251.6L529.6 250.5L530.7 249.5L531.9 248.5L533.1 247.4L534.2 246.4L535.4 245.3L536.5 244.2L537.7 243.2L538.8 242.1L540.0 241.0L541.1 239.9L542.2 238.9L543.4 237.8L544.5 236.7L545.6 235.6L546.8 234.5L547.9 233.4L549.0 232.3L550.1 231.2L551.2 230.1L552.4 229.0L553.5 227.9L554.6 226.8L555.7 225.7L556.9 224.6L558.0 223.5L559.1 222.5L560.3 221.4L561.4 220.3L562.5 219.2L563.7 218.1L564.8 217.0L566.0 216.0L567.1 214.9L568.3 213.8L569.5 212.8L570.6 211.7L571.8 210.7L573.0 209.7L574.2 208.6L575.4 207.6L576.6 206.6L577.8 205.6L579.0 204.6L580.3 203.6L581.5 202.6L582.7 201.6L584.0 200.7L585.3 199.7L586.5 198.7L587.8 197.8L589.1 196.9L590.4 196.0L591.7 195.0L593.0 194.2L594.3 193.3L595.6 192.4L597.0 191.5L598.3 190.7L599.7 189.8L601.0 189.0L602.4 188.2L603.8 187.4L605.2 186.6L606.6 185.9L608.0 185.3L609.4 184.8L610.8 184.5L612.1 184.5L613.5 184.7L614.8 185.1L616.1 185.7L617.4 186.5L618.6 187.4L619.8 188.5L621.0 189.6L622.0 190.8L623.1 192.1L624.1 193.4L625.0 194.7L625.9 196.0L626.7 197.3L627.5 198.7L628.3 200.1L629.0 201.5L629.7 203.0L630.3 204.4L630.9 205.9L631.5 207.3L632.1 208.8L632.6 210.3L633.2 211.8L633.7 213.3L634.2 214.8L634.7 216.3L635.2 217.8L635.6 219.3L636.1 220.8L636.5 222.4L637.0 223.9L637.4 225.4L637.8 226.9L638.2 228.5L638.6 230.0L639.0 231.5L639.4 233.1L639.8 234.6L640.1 236.2L640.5 237.7L640.9 239.2L641.2 240.8L641.6 242.3L641.9 243.9L642.3 245.4L642.6 247.0L643.0 248.5L643.3 250.0L643.7 251.6L644.0 253.1L644.4 254.7L644.8 256.2L645.1 257.7L645.5 259.3L645.9 260.8L646.2 262.3L646.6 263.9L647.0 265.4L647.4 266.9L647.8 268.4L648.2 270.0L648.6 271.5L649.0 273.0L649.5 274.5L649.9 276.0L650.4 277.5L650.9 279.0L651.4 280.5L651.9 281.9L652.4 283.4L652.9 284.9L653.4 286.4L654.0 287.8L654.6 289.3L655.2 290.7L655.8 292.2L656.4 293.6L657.0 295.0L657.7 296.5L658.4 297.9L659.1 299.3L659.8 300.7L660.5 302.1L661.3 303.4L662.1 304.8L662.9 306.1L663.7 307.5L664.5 308.8L665.4 310.1L666.3 311.4L667.2 312.7L668.1 314.0L669.0 315.2L670.0 316.5L671.0 317.7L672.0 318.9L673.0 320.1L674.0 321.2L675.1 322.4L676.2 323.5L677.3 324.6L678.4 325.7L679.5 326.7L680.7 327.7L681.9 328.7L683.1 329.7L684.3 330.7L685.5 331.6L686.8 332.5L688.1 333.4L689.4 334.3L690.7 335.1L692.1 335.9L693.4 336.7L694.8 337.5L696.2 338.2L697.6 338.9L699.0 339.6L700.5 340.3L701.9 341.0L703.4 341.7L704.8 342.3L706.3 342.9L707.8 343.5L709.3 344.1L710.8 344.7L712.3 345.3L713.8 345.9L715.3 346.4L716.8 346.9L718.3 347.5L719.8 348.0L721.3 348.5L722.8 349.0L724.4 349.5L725.9 350.0L727.4 350.5L728.9 351.0L730.4 351.5L731.9 351.9L733.4 352.4L734.9 352.9L736.4 353.3L737.9 353.8L739.4 354.2L740.9 354.7L742.4 355.1L743.9 355.5L745.3 355.9L746.8 356.3L748.3 356.7L749.8 357.1L751.3 357.5L752.8 357.8L754.3 358.2L755.8 358.5L757.3 358.9L758.8 359.2L760.3 359.5L761.9 359.7L763.4 360.0L764.9 360.3L766.5 360.5L768.0 360.7L769.5 360.9L771.1 361.1L772.7 361.3L774.2 361.4L775.8 361.5L777.4 361.7L779.0 361.7L780.6 361.8L782.2 361.9L783.9 361.9L785.5 361.9L787.1 361.9L788.8 361.8" fill="none" stroke="#8a5299" stroke-width="1.6" stroke-linejoin="round" stroke-linecap="round"/>
<path d="M102.7 425.7L104.3 426.0L106.0 426.4L107.6 426.8L109.2 427.1L110.8 427.5L112.4 427.9L114.0 428.3L115.6 428.7L117.2 429.1L118.8 429.6L120.4 430.0L122.0 430.4L123.6 430.9L125.2 431.3L126.7 431.8L128.3 432.2L129.9 432.7L131.4 433.2L133.0 433.6L134.6 434.1L136.1 434.6L137.7 435.1L139.2 435.6L140.8 436.1L142.3 436.6L143.9 437.1L145.4 437.6L146.9 438.2L148.5 438.7L150.0 439.2L151.5 439.8L153.1 440.3L154.6 440.9L156.1 441.4L157.7 442.0L159.2 442.6L160.7 443.1L162.2 443.7L163.8 444.3L165.3 444.9L166.8 445.5L168.3 446.0L169.9 446.6L171.4 447.2L172.9 447.9L174.4 448.5L176.0 449.1L177.5 449.7L179.0 450.3L180.5 450.9L182.0 451.6L183.6 452.2L185.1 452.8L186.6 453.5L188.1 454.1L189.7 454.8L191.2 455.4L192.7 456.1L194.3 456.7L195.8 457.4L197.3 458.0L198.9 458.7L200.4 459.3L201.9 459.9L203.5 460.6L205.0 461.2L206.6 461.8L208.1 462.4L209.7 463.0L211.2 463.6L212.8 464.2L214.3 464.7L215.9 465.3L217.4 465.8L219.0 466.3L220.6 466.8L222.1 467.2L223.7 467.7L225.3 468.1L226.8 468.5L228.4 468.9L230.0 469.2L231.6 469.5L233.2 469.8L234.8 470.1L236.4 470.3L238.0 470.6L239.6 470.7L241.2 470.9L242.8 471.0L244.4 471.0L246.0 471.1L247.7 471.1L249.3 471.0L250.9 470.9L252.5 470.8L254.2 470.7L255.8 470.4L257.5 470.2L259.1 469.9L260.8 469.6L262.5 469.2L264.1 468.9L265.7 468.6L267.4 468.4L269.0 468.3L270.6 468.2L272.2 468.3L273.7 468.5L275.2 468.9L276.7 469.5L278.1 470.3L279.4 471.3L280.6 472.4L281.6 473.7L282.5 475.1L283.3 476.5L284.1 478.0L284.9 479.5L285.8 480.9L286.8 482.2L287.9 483.3L289.0 484.5L290.2 485.6L291.4 486.7L292.6 487.8L293.8 488.9L294.8 490.2L295.8 491.6L296.7 493.0L297.7 494.4L298.7 495.7L300.0 496.9L301.4 498.0L303.0 498.8L304.6 499.4L306.2 499.6L307.6 499.6L308.9 499.2L310.1 498.6L311.2 497.7L312.2 496.6L313.1 495.3L314.0 494.0L314.9 492.6L315.7 491.1L316.5 489.7L317.4 488.2L318.2 486.8L319.1 485.3L319.9 483.9L320.8 482.4L321.6 481.0L322.5 479.6L323.3 478.2L324.2 476.7L325.1 475.3L325.9 473.9L326.8 472.5L327.7 471.1L328.6 469.7L329.4 468.3L330.3 466.9L331.2 465.5L332.1 464.1L333.0 462.7L333.9 461.3L334.8 460.0L335.7 458.6L336.6 457.2L337.5 455.8L338.4 454.4L339.3 453.1L340.2 451.7L341.1 450.3L342.0 449.0L342.9 447.6L343.8 446.3L344.7 444.9L345.6 443.5L346.6 442.2L347.5 440.8L348.4 439.5L349.3 438.1L350.3 436.8L351.2 435.5L352.1 434.1L353.0 432.8L354.0 431.4L354.9 430.1L355.8 428.8L356.8 427.4L357.7 426.1L358.7 424.7L359.6 423.4L360.5 422.1L361.5 420.8L362.4 419.4L363.4 418.1L364.3 416.8L365.3 415.4L366.2 414.1L367.1 412.8L368.1 411.5L369.0 410.1L370.0 408.8L370.9 407.5L371.9 406.2L372.8 404.8L373.8 403.5L374.8 402.2L375.7 400.9L376.7 399.5L377.6 398.2L378.6 396.9L379.5 395.5L380.5 394.2L381.4 392.9L382.4 391.6L383.4 390.2L384.3 388.9L385.3 387.6L386.2 386.3L387.2 384.9L388.2 383.6L389.1 382.3L390.1 380.9L391.1 379.6L392.0 378.3L393.0 377.0L393.9 375.6L394.9 374.3L395.9 373.0L396.9 371.7L397.8 370.3L398.8 369.0L399.8 367.7L400.7 366.4L401.7 365.1L402.7 363.7L403.7 362.4L404.7 361.1L405.6 359.8L406.6 358.5L407.6 357.1L408.6 355.8L409.6 354.5L410.6 353.2L411.6 351.9L412.5 350.6L413.5 349.3L414.5 348.0L415.5 346.7L416.5 345.3L417.5 344.0L418.5 342.7L419.5 341.4L420.5 340.1L421.6 338.8L422.6 337.5L423.6 336.3L424.6 335.0L425.6 333.7L426.6 332.4L427.7 331.1L428.7 329.8L429.7 328.5L430.7 327.3L431.8 326.0L432.8 324.7L433.8 323.4L434.9 322.2L435.9 320.9L437.0 319.6L438.0 318.4L439.1 317.1L440.1 315.8L441.2 314.6L442.2 313.3L443.3 312.1L444.3 310.8L445.4 309.6L446.5 308.4L447.6 307.1L448.6 305.9L449.7 304.6L450.8 303.4L451.9 302.2L453.0 301.0L454.1 299.7L455.2 298.5L456.3 297.3L457.4 296.1L458.5 294.9L459.6 293.7L460.7 292.5L461.8 291.3L462.9 290.1L464.0 288.9L465.2 287.7L466.3 286.5L467.4 285.4L468.6 284.2L469.7 283.0L470.9 281.9L472.0 280.7L473.2 279.5L474.3 278.4L475.5 277.2L476.6 276.1L477.8 274.9L479.0 273.8L480.2 272.7L481.3 271.5L482.5 270.4L483.7 269.3L484.9 268.2L486.1 267.0L487.3 265.9L488.5 264.8L489.7 263.7L490.9 262.6L492.1 261.5L493.3 260.4L494.5 259.3L495.7 258.2L496.9 257.1L498.1 256.0L499.3 254.9L500.5 253.8L501.7 252.6L502.9 251.5L504.1 250.4L505.4 249.3L506.6 248.2L507.8 247.1L509.0 246.0L510.2 244.9L511.4 243.8L512.6 242.7L513.8 241.6L515.0 240.5L516.2 239.4L517.4 238.3L518.6 237.2L519.8 236.1L521.0 234.9L522.2 233.8L523.4 232.7L524.6 231.6L525.8 230.5L527.0 229.3L528.2 228.2L529.4 227.1L530.6 225.9L531.8 224.8L533.0 223.7L534.1 222.5L535.3 221.4L536.5 220.3L537.7 219.1L538.9 218.0L540.1 216.9L541.3 215.7L542.4 214.6L543.6 213.5L544.8 212.3L546.0 211.2L547.2 210.1L548.4 209.0L549.6 207.8L550.8 206.7L552.0 205.6L553.2 204.5L554.4 203.4L555.6 202.3L556.8 201.2L558.0 200.1L559.2 199.0L560.5 197.9L561.7 196.8L562.9 195.7L564.1 194.6L565.4 193.5L566.6 192.5L567.8 191.4L569.1 190.3L570.3 189.3L571.6 188.2L572.8 187.2L574.1 186.1L575.4 185.1L576.6 184.1L577.9 183.1L579.2 182.0L580.5 181.0L581.8 180.0L583.1 179.0L584.4 178.0L585.7 177.1L587.0 176.1L588.3 175.1L589.7 174.1L591.0 173.2L592.4 172.2L593.7 171.3L595.1 170.3L596.4 169.4L597.8 168.4L599.2 167.5L600.6 166.6L602.0 165.7L603.4 164.8L604.8 164.0L606.2 163.3L607.6 162.9L609.0 162.7L610.3 162.8L611.7 163.3L613.0 164.2L614.3 165.4L615.5 166.9L616.6 168.5L617.6 170.1L618.5 171.8L619.3 173.4L619.9 174.9L620.5 176.5L621.1 178.0L621.6 179.5L622.1 181.0L622.6 182.5L623.1 184.0L623.6 185.5L624.2 187.0L624.7 188.5L625.3 190.0L625.8 191.5L626.4 193.0L627.0 194.5L627.6 196.0L628.2 197.5L628.8 199.1L629.3 200.6L629.9 202.1L630.5 203.6L631.1 205.2L631.7 206.7L632.2 208.2L632.8 209.8L633.3 211.4L633.8 212.9L634.3 214.5L634.8 216.0L635.3 217.6L635.8 219.2L636.2 220.8L636.7 222.4L637.1 223.9L637.5 225.5L638.0 227.1L638.4 228.7L638.8 230.3L639.2 231.9L639.5 233.5L639.9 235.1L640.3 236.8L640.7 238.4L641.1 240.0L641.4 241.6L641.8 243.2L642.1 244.8L642.5 246.4L642.9 248.0L643.2 249.6L643.6 251.3L644.0 252.9L644.3 254.5L644.7 256.1L645.1 257.7L645.5 259.3L645.8 260.9L646.2 262.5L646.6 264.1L647.0 265.7L647.5 267.3L647.9 268.9L648.3 270.4L648.7 272.0L649.2 273.6L649.7 275.2L650.1 276.7L650.6 278.3L651.1 279.8L651.6 281.4L652.2 282.9L652.7 284.5L653.3 286.0L653.9 287.5L654.5 289.1L655.1 290.6L655.7 292.1L656.4 293.6L657.0 295.1L657.7 296.5L658.4 298.0L659.2 299.5L659.9 300.9L660.7 302.4L661.5 303.8L662.3 305.2L663.2 306.6L664.0 308.0L664.9 309.4L665.8 310.7L666.7 312.1L667.7 313.4L668.6 314.7L669.6 316.0L670.6 317.3L671.7 318.5L672.7 319.8L673.8 321.0L674.9 322.2L676.0 323.3L677.2 324.5L678.3 325.6L679.5 326.7L680.7 327.8L682.0 328.8L683.2 329.8L684.5 330.8L685.8 331.8L687.1 332.7L688.5 333.6L689.9 334.5L691.2 335.4L692.7 336.2L694.1 337.0L695.5 337.8L697.0 338.6L698.5 339.3L699.9 340.1L701.4 340.8L702.9 341.5L704.5 342.1L706.0 342.8L707.5 343.4L709.1 344.1L710.6 344.7L712.2 345.3L713.8 345.9L715.4 346.4L716.9 347.0L718.5 347.6L720.1 348.1L721.7 348.6L723.3 349.2L724.8 349.7L726.4 350.2L728.0 350.7L729.6 351.2L731.1 351.7L732.7 352.2L734.3 352.7L735.8 353.2L737.4 353.6L738.9 354.1L740.5 354.6L742.0 355.0L743.6 355.5L745.1 355.9L746.7 356.3L748.2 356.7L749.8 357.1L751.4 357.5L752.9 357.9L754.5 358.2L756.0 358.6L757.6 358.9L759.2 359.2L760.8 359.5L762.4 359.8L764.0 360.1L765.5 360.4L767.2 360.6L768.8 360.8L770.4 361.0L772.0 361.2L773.6 361.4L775.3 361.5L776.9 361.6L778.6 361.7L780.3 361.8L782.0 361.8L783.7 361.9L785.4 361.9L787.1 361.9L788.8 361.8" fill="none" stroke="#78a252" stroke-width="1.6" stroke-linejoin="round" stroke-linecap="round"/>
<line x1="102.10" y1="529.9" x2="102.10" y2="522.9" stroke="#363636" stroke-width="2"/>
<line x1="102.10" y1="7.0" x2="102.10" y2="14.0" stroke="#363636" stroke-width="2"/>
<line x1="187.95" y1="529.9" x2="187.95" y2="522.9" stroke="#363636" stroke-width="2"/>
<line x1="187.95" y1="7.0" x2="187.95" y2="14.0" stroke="#363636" stroke-width="2"/>
<line x1="273.80" y1="529.9" x2="273.80" y2="522.9" stroke="#363636" stroke-width="2"/>
<line x1="273.80" y1="7.0" x2="273.80" y2="14.0" stroke="#363636" stroke-width="2"/>
<line x1="359.65" y1="529.9" x2="359.65" y2="522.9" stroke="#363636" stroke-width="2"/>
<line x1="359.65" y1="7.0" x2="359.65" y2="14.0" stroke="#363636" stroke-width="2"/>
<line x1="445.50" y1="529.9" x2="445.50" y2="522.9" stroke="#363636" stroke-width="2"/>
<line x1="445.50" y1="7.0" x2="445.50" y2="14.0" stroke="#363636" stroke-width="2"/>
<line x1="531.35" y1="529.9" x2="531.35" y2="522.9" stroke="#363636" stroke-width="2"/>
<line x1="531.35" y1="7.0" x2="531.35" y2="14.0" stroke="#363636" stroke-width="2"/>
<line x1="617.20" y1="529.9" x2="617.20" y2="522.9" stroke="#363636" stroke-width="2"/>
<line x1="617.20" y1="7.0" x2="617.20" y2="14.0" stroke="#363636" stroke-width="2"/>
<line x1="703.05" y1="529.9" x2="703.05" y2="522.9" stroke="#363636" stroke-width="2"/>
<line x1="703.05" y1="7.0" x2="703.05" y2="14.0" stroke="#363636" stroke-width="2"/>
<line x1="788.90" y1="529.9" x2="788.90" y2="522.9" stroke="#363636" stroke-width="2"/>
<line x1="788.90" y1="7.0" x2="788.90" y2="14.0" stroke="#363636" stroke-width="2"/>
<line x1="102.1" y1="529.90" x2="109.1" y2="529.90" stroke="#363636" stroke-width="2"/>
<line x1="788.9" y1="529.90" x2="781.9" y2="529.90" stroke="#363636" stroke-width="2"/>
<line x1="102.1" y1="465.10" x2="109.1" y2="465.10" stroke="#363636" stroke-width="2"/>
<line x1="788.9" y1="465.10" x2="781.9" y2="465.10" stroke="#363636" stroke-width="2"/>
<line x1="102.1" y1="399.80" x2="109.1" y2="399.80" stroke="#363636" stroke-width="2"/>
<line x1="788.9" y1="399.80" x2="781.9" y2="399.80" stroke="#363636" stroke-width="2"/>
<line x1="102.1" y1="334.00" x2="109.1" y2="334.00" stroke="#363636" stroke-width="2"/>
<line x1="788.9" y1="334.00" x2="781.9" y2="334.00" stroke="#363636" stroke-width="2"/>
<line x1="102.1" y1="268.40" x2="109.1" y2="268.40" stroke="#363636" stroke-width="2"/>
<line x1="788.9" y1="268.40" x2="781.9" y2="268.40" stroke="#363636" stroke-width="2"/>
<line x1="102.1" y1="203.10" x2="109.1" y2="203.10" stroke="#363636" stroke-width="2"/>
<line x1="788.9" y1="203.10" x2="781.9" y2="203.10" stroke="#363636" stroke-width="2"/>
<line x1="102.1" y1="138.10" x2="109.1" y2="138.10" stroke="#363636" stroke-width="2"/>
<line x1="788.9" y1="138.10" x2="781.9" y2="138.10" stroke="#363636" stroke-width="2"/>
<line x1="102.1" y1="72.60" x2="109.1" y2="72.60" stroke="#363636" stroke-width="2"/>
<line x1="788.9" y1="72.60" x2="781.9" y2="72.60" stroke="#363636" stroke-width="2"/>
<line x1="102.1" y1="7.00" x2="109.1" y2="7.00" stroke="#363636" stroke-width="2"/>
<line x1="788.9" y1="7.00" x2="781.9" y2="7.00" stroke="#363636" stroke-width="2"/>
<rect x="102.1" y="7.0" width="686.8" height="522.9" fill="none" stroke="#363636" stroke-width="2"/>
<rect x="116.3" y="20.8" width="198.7" height="167.0" fill="#fff" stroke="#363636" stroke-width="2"/>
<line x1="131.6" y1="41.10" x2="210.2" y2="41.10" stroke="#2c6a9e" stroke-width="1.9"/>
<text x="217.2" y="50.60" font-size="23.5" fill="#111">@6m/s</text>
<line x1="131.6" y1="72.85" x2="210.2" y2="72.85" stroke="#cd6c48" stroke-width="1.9"/>
<text x="217.2" y="82.35" font-size="23.5" fill="#111">@8m/s</text>
<line x1="131.6" y1="104.60" x2="210.2" y2="104.60" stroke="#e2b650" stroke-width="1.9"/>
<text x="217.2" y="114.10" font-size="23.5" fill="#111">@10m/s</text>
<line x1="131.6" y1="136.35" x2="210.2" y2="136.35" stroke="#8a5299" stroke-width="1.9"/>
<text x="217.2" y="145.85" font-size="23.5" fill="#111">@12m/s</text>
<line x1="131.6" y1="168.10" x2="210.2" y2="168.10" stroke="#78a252" stroke-width="1.9"/>
<text x="217.2" y="177.60" font-size="23.5" fill="#111">@14m/s</text>
<text x="89.2" y="539.80" font-size="24.5" text-anchor="end" fill="#111">-40</text>
<text x="89.2" y="475.00" font-size="24.5" text-anchor="end" fill="#111">-20</text>
<text x="89.2" y="409.70" font-size="24.5" text-anchor="end" fill="#111">0</text>
<text x="89.2" y="343.90" font-size="24.5" text-anchor="end" fill="#111">20</text>
<text x="89.2" y="278.30" font-size="24.5" text-anchor="end" fill="#111">40</text>
<text x="89.2" y="213.00" font-size="24.5" text-anchor="end" fill="#111">60</text>
<text x="89.2" y="148.00" font-size="24.5" text-anchor="end" fill="#111">80</text>
<text x="89.2" y="82.50" font-size="24.5" text-anchor="end" fill="#111">100</text>
<text x="89.2" y="17.70" font-size="24.5" text-anchor="end" fill="#111">120</text>
<text x="100.60" y="566.3" font-size="24.5" text-anchor="middle" fill="#111">-20</text>
<text x="186.45" y="566.3" font-size="24.5" text-anchor="middle" fill="#111">-15</text>
<text x="272.30" y="566.3" font-size="24.5" text-anchor="middle" fill="#111">-10</text>
<text x="358.15" y="566.3" font-size="24.5" text-anchor="middle" fill="#111">-5</text>
<text x="444.00" y="566.3" font-size="24.5" text-anchor="middle" fill="#111">0</text>
<text x="529.85" y="566.3" font-size="24.5" text-anchor="middle" fill="#111">5</text>
<text x="615.70" y="566.3" font-size="24.5" text-anchor="middle" fill="#111">10</text>
<text x="701.55" y="566.3" font-size="24.5" text-anchor="middle" fill="#111">15</text>
<text x="787.40" y="566.3" font-size="24.5" text-anchor="middle" fill="#111">20</text>
<text x="445.3" y="615.8" font-size="42" text-anchor="middle" fill="#111">Angle of Atack [deg]</text>
<text transform="translate(31.8 268.3) rotate(-90) scale(1,1.04)" x="0" y="0" font-size="40.1" text-anchor="middle" fill="#111">Lift to Drag ratio [%]</text>
</svg>
</body></html>
